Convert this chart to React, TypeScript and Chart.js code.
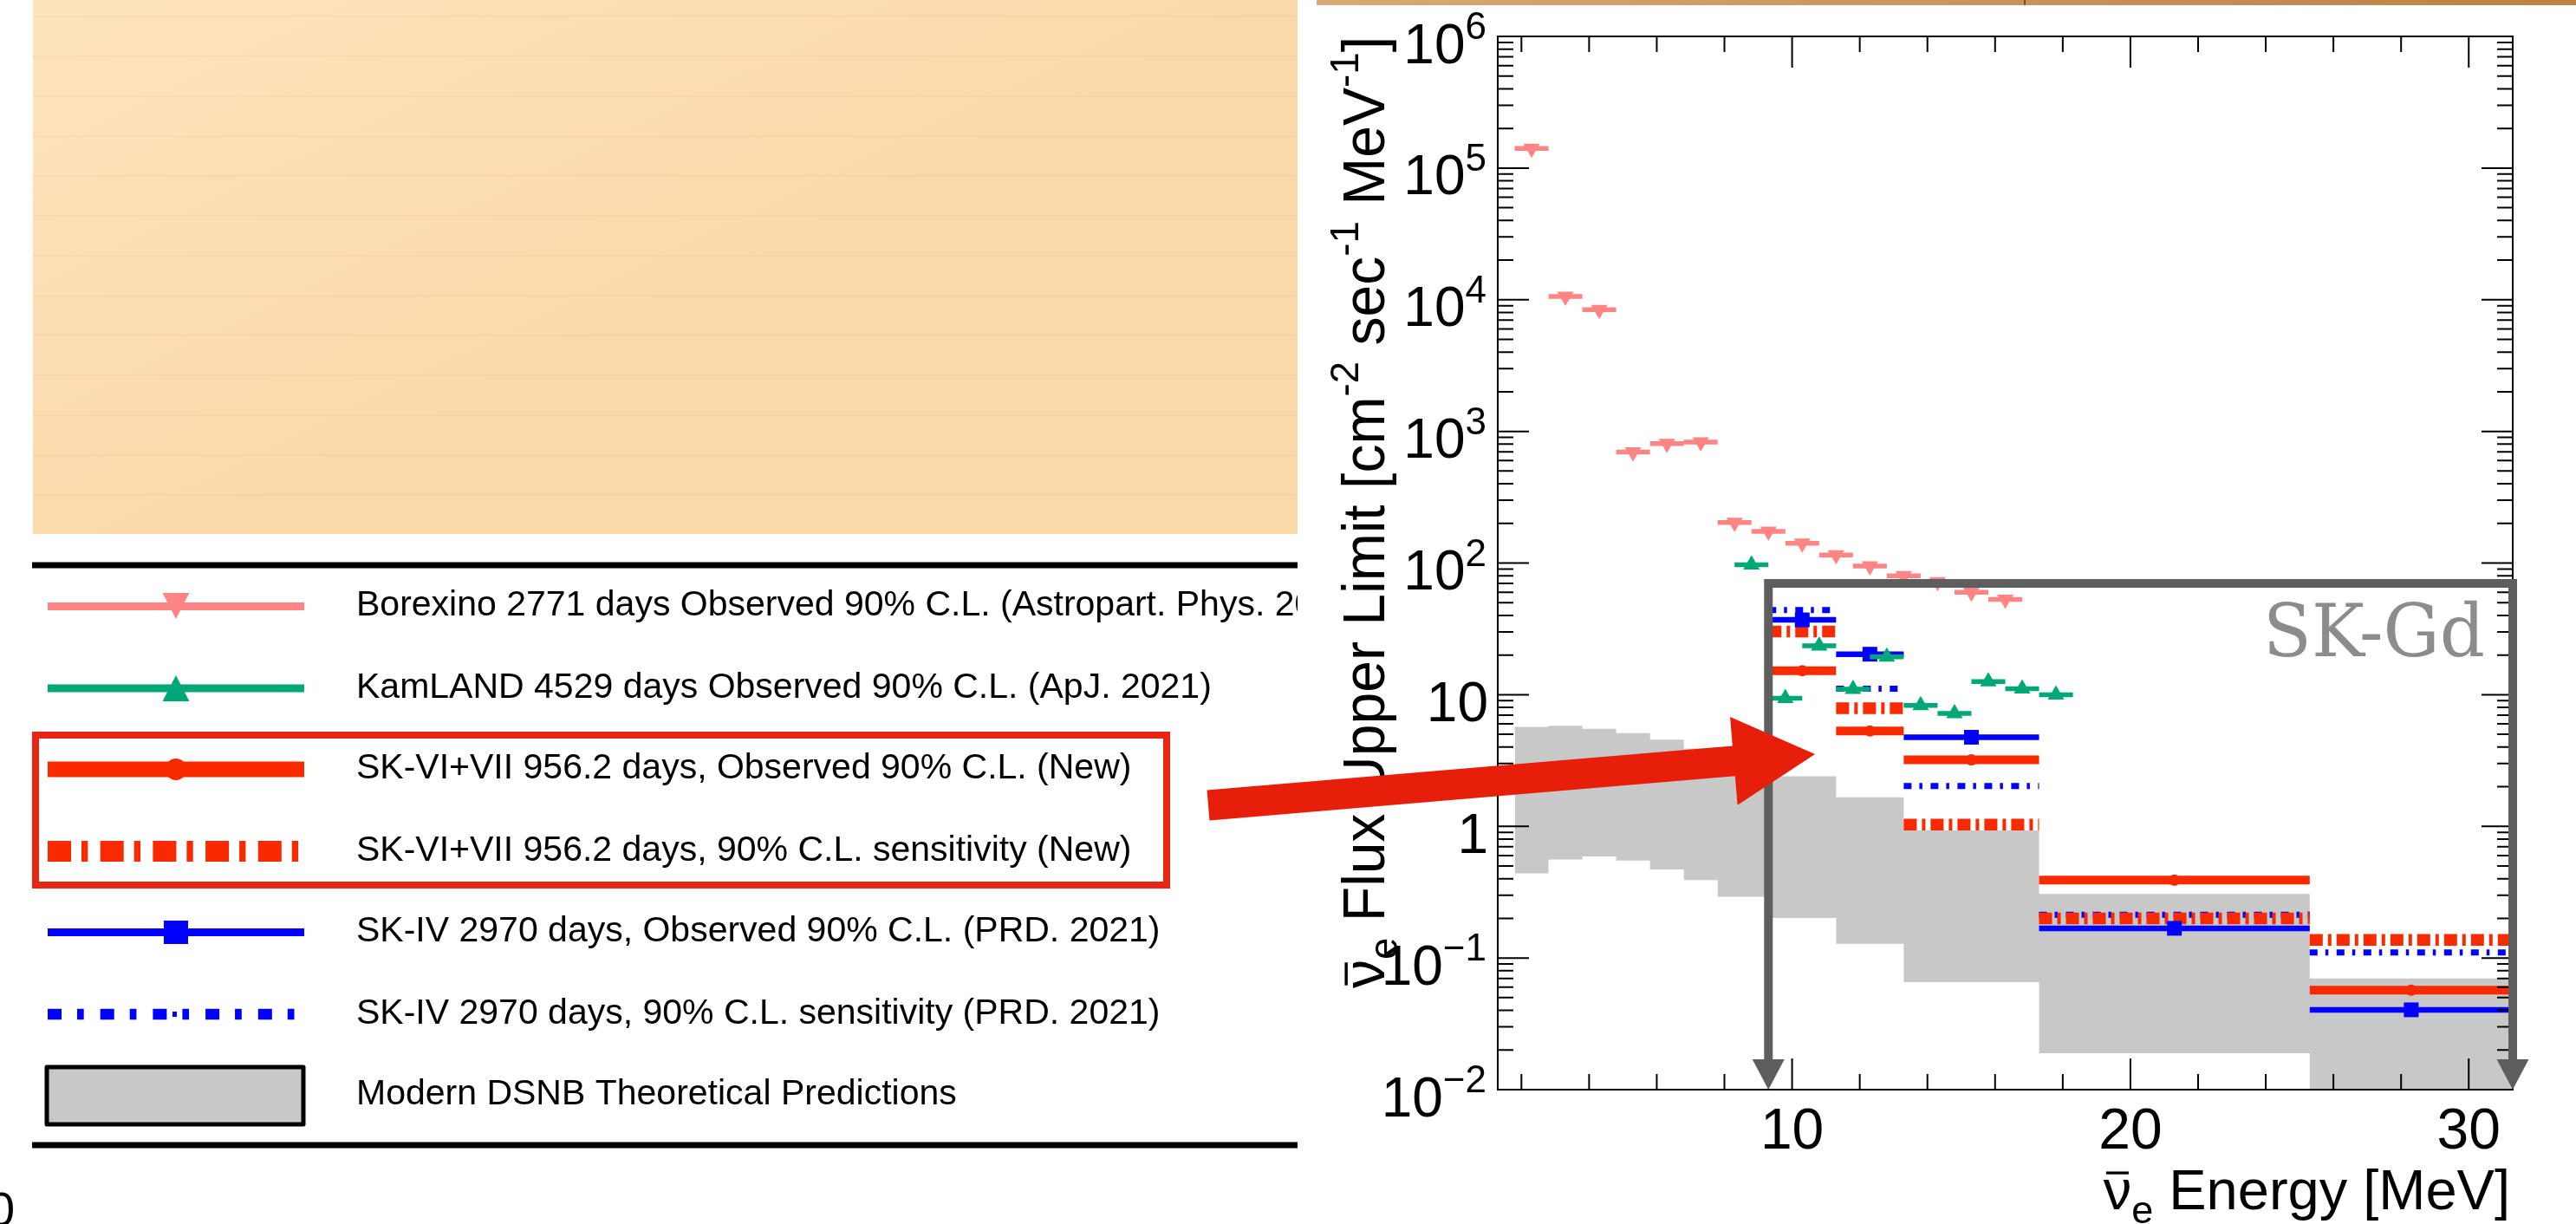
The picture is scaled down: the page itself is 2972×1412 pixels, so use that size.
import React, { useEffect, useRef } from "react";
import { Chart, registerables } from "chart.js";

Chart.register(...registerables);

const CANVAS_W = 2972;
const CANVAS_H = 1412;
const SANS = '"Liberation Sans", Arial, Helvetica, sans-serif';
const SERIF = '"DejaVu Serif", "Liberation Serif", serif';

// ---------------- data ----------------
const SK_BIN_LOW = [9.3, 11.3, 13.3, 17.3, 25.3];
const SK_BIN_HIGH = [11.3, 13.3, 17.3, 25.3, 31.3];
const SK_MARKER_E = [10.3, 12.3, 15.3, 21.3, 28.3];
const SK67_OBSERVED = [15.2, 5.3, 3.2, 0.39, 0.057];
const SK67_SENSITIVITY = [30.2, 7.9, 1.03, 0.2, 0.137];
const SK4_OBSERVED = [37, 20.3, 4.75, 0.168, 0.0404];
const SK4_SENSITIVITY = [44, 11.1, 2.02, 0.213, 0.11];

const BOREXINO_E = [2.3, 3.3, 4.3, 5.3, 6.3, 7.3, 8.3, 9.3, 10.3, 11.3, 12.3, 13.3, 14.3, 15.3, 16.3];
const BOREXINO_LIMIT = [141000, 10600, 8400, 697, 807, 830, 203, 174, 141, 115, 95, 80, 72, 60, 53];
const KAMLAND_E = [8.8, 9.8, 10.8, 11.8, 12.8, 13.8, 14.8, 15.8, 16.8, 17.8];
const KAMLAND_LIMIT = [97, 9.4, 23.5, 11.0, 19.4, 8.3, 7.2, 12.6, 11.1, 10.0];
const BIN_HALF_WIDTH = 0.5;

const DSNB_EDGES = [1.8, 2.8, 3.8, 4.8, 5.8, 6.8, 7.8, 9.3, 11.3, 13.3, 17.3, 25.3, 31.3];
const DSNB_UPPER = [5.7, 5.8, 5.5, 5.1, 4.55, 3.9, 3.1, 2.4, 1.66, 0.93, 0.306, 0.07];
const DSNB_LOWER = [0.44, 0.56, 0.59, 0.55, 0.47, 0.39, 0.292, 0.201, 0.128, 0.0656, 0.0189, 0.005];

// ---------------- axes ----------------
const X_MIN = 1.3;
const X_MAX = 31.3;
const Y_MIN = 0.01;
const Y_MAX = 1e6;
const X_TICK_START = 2;
const X_TICK_STEP = 2;
const X_MAJOR_EVERY = 10;
const X_LABEL_VALUES = [10, 20, 30];
const X_LABELS = ["10", "20", "30"];
const Y_LABEL_VALUES = [1e-2, 1e-1, 1, 10, 1e2, 1e3, 1e4, 1e5, 1e6];
const Y_LABEL_BASES = ["10", "10", "1", "10", "10", "10", "10", "10", "10"];
const Y_LABEL_EXPONENTS = ["\u22122", "\u22121", "", "", "2", "3", "4", "5", "6"];
const Y_MIN_EXP = -2;
const Y_MAX_EXP = 6;

const LEGEND_LABELS = [
  "Borexino 2771 days Observed 90% C.L. (Astropart. Phys. 2021)",
  "KamLAND 4529 days Observed 90% C.L. (ApJ. 2021)",
  "SK-VI+VII 956.2 days, Observed 90% C.L. (New)",
  "SK-VI+VII 956.2 days, 90% C.L. sensitivity (New)",
  "SK-IV 2970 days, Observed 90% C.L. (PRD. 2021)",
  "SK-IV 2970 days, 90% C.L. sensitivity (PRD. 2021)",
  "Modern DSNB Theoretical Predictions",
];
const SKGD_LABEL = "SK-Gd";
const SKGD_BOX = { xMin: 9.3, xMax: 31.3, yTop: 70 };

// ---------------- colours ----------------
const C_BOREXINO = "#FF8484";
const C_KAMLAND = "#00A877";
const C_RED = "#FA2A00";
const C_BLUE = "#0000FF";
const C_BAND = "#C8C8C8";
const C_ARROW = "#E61E0A";
const C_BOX = "#5E5E5E";

// ---------------- helpers ----------------
function binSegments(lo: number[], hi: number[], vals: number[]) {
  const pts: any[] = [];
  vals.forEach((v, i) => {
    pts.push({ x: lo[i], y: v }, { x: hi[i], y: v }, { x: hi[i], y: null });
  });
  return pts;
}
function stepData(edges: number[], vals: number[]) {
  return edges.map((e, i) => ({ x: e, y: vals[Math.min(i, vals.length - 1)] }));
}
function points(xs: number[], ys: number[]) {
  return xs.map((x, i) => ({ x, y: ys[i] }));
}

type Seg = { t: string; size: number; dy?: number; bar?: boolean };
function segWidth(ctx: CanvasRenderingContext2D, segs: Seg[]) {
  let w = 0;
  for (const s of segs) {
    ctx.font = `${s.size}px ${SANS}`;
    w += ctx.measureText(s.t).width;
  }
  return w;
}
function drawSegs(ctx: CanvasRenderingContext2D, x: number, y: number, segs: Seg[]) {
  let cx = x;
  ctx.textAlign = "left";
  ctx.textBaseline = "alphabetic";
  for (const s of segs) {
    ctx.font = `${s.size}px ${SANS}`;
    const w = ctx.measureText(s.t).width;
    ctx.fillText(s.t, cx, y + (s.dy || 0));
    if (s.bar) ctx.fillRect(cx + w * 0.1, y - s.size * 0.67, w * 0.8, Math.max(3, s.size * 0.05));
    cx += w;
  }
}

function drawLegend(ctx: CanvasRenderingContext2D) {
  const X0 = 55, X1 = 351, MX = 203, TX = 411;
  const rows = [699.5, 794, 887.5, 982, 1075.5, 1170, 1263.5];
  ctx.fillStyle = "#000";
  ctx.fillRect(37, 648.5, 1460, 7);
  ctx.fillRect(37, 1317.5, 1460, 7);

  const hline = (y: number, w: number, c: string, dash: number[] = []) => {
    ctx.save();
    ctx.strokeStyle = c;
    ctx.lineWidth = w;
    ctx.lineCap = "butt";
    ctx.setLineDash(dash);
    ctx.beginPath();
    ctx.moveTo(X0, y);
    ctx.lineTo(X1, y);
    ctx.stroke();
    ctx.restore();
  };
  // Borexino
  hline(rows[0], 9, C_BOREXINO);
  ctx.fillStyle = C_BOREXINO;
  ctx.beginPath();
  ctx.moveTo(MX - 15.5, rows[0] - 15.5);
  ctx.lineTo(MX + 15.5, rows[0] - 15.5);
  ctx.lineTo(MX, rows[0] + 14.5);
  ctx.closePath();
  ctx.fill();
  // KamLAND
  hline(rows[1], 9, C_KAMLAND);
  ctx.fillStyle = C_KAMLAND;
  ctx.beginPath();
  ctx.moveTo(MX - 15.5, rows[1] + 15);
  ctx.lineTo(MX + 15.5, rows[1] + 15);
  ctx.lineTo(MX, rows[1] - 15);
  ctx.closePath();
  ctx.fill();
  // SK-VI+VII observed
  hline(rows[2], 18, C_RED);
  ctx.fillStyle = C_RED;
  ctx.beginPath();
  ctx.arc(MX, rows[2], 12.5, 0, Math.PI * 2);
  ctx.fill();
  // SK-VI+VII sensitivity
  hline(rows[3], 24, C_RED, [27, 12, 7.3, 14.4]);
  // SK-IV observed
  hline(rows[4], 9, C_BLUE);
  ctx.fillStyle = C_BLUE;
  ctx.fillRect(MX - 14, rows[4] - 13.5, 28, 27);
  // SK-IV sensitivity
  hline(rows[5], 12.5, C_BLUE, [16, 18, 7.7, 19]);
  ctx.fillStyle = C_BLUE;
  ctx.fillRect(MX - 4, rows[5] - 3, 5, 6);
  // DSNB box
  ctx.fillStyle = C_BAND;
  ctx.fillRect(54, 1231, 296, 66);
  ctx.strokeStyle = "#000";
  ctx.lineWidth = 5;
  ctx.lineJoin = "round";
  ctx.strokeRect(54, 1231, 296, 66);

  // texts
  ctx.fillStyle = "#000";
  ctx.font = `41px ${SANS}`;
  ctx.textAlign = "left";
  ctx.textBaseline = "alphabetic";
  LEGEND_LABELS.forEach((t, i) => ctx.fillText(t, TX, rows[i] + 10.5));

  // red highlight box
  ctx.strokeStyle = "#EA2412";
  ctx.lineWidth = 8;
  ctx.lineJoin = "miter";
  ctx.strokeRect(41, 848, 1305, 173);
}

const pagePlugin = {
  id: "page",
  beforeDraw(chart: any) {
    const ctx: CanvasRenderingContext2D = chart.ctx;
    ctx.save();
    ctx.fillStyle = "#FFFFFF";
    ctx.fillRect(0, 0, CANVAS_W, CANVAS_H);
    // slide background panel
    const g = ctx.createLinearGradient(0, 0, 300, 616);
    g.addColorStop(0, "#FDE4BE");
    g.addColorStop(1, "#FBD8A8");
    ctx.fillStyle = g;
    ctx.fillRect(38, 0, 1459, 616);
    ctx.strokeStyle = "rgba(225,170,100,0.10)";
    ctx.lineWidth = 2;
    for (let yy = 19; yy < 616; yy += 46) {
      ctx.beginPath();
      ctx.moveTo(38, yy);
      ctx.lineTo(1497, yy);
      ctx.stroke();
    }
    // brown strip on top of right panel
    const g2 = ctx.createLinearGradient(1497, 0, CANVAS_W, 0);
    g2.addColorStop(0, "#D6AA76");
    g2.addColorStop(1, "#BE8046");
    ctx.fillStyle = g2;
    ctx.fillRect(1519, 0, CANVAS_W - 1519, 6);
    ctx.fillStyle = "#7A5020";
    ctx.fillRect(2335, 0, 2, 6);

    ctx.save();
    ctx.beginPath();
    ctx.rect(0, 0, 1497, CANVAS_H);
    ctx.clip();
    drawLegend(ctx);
    ctx.restore();

    // partial glyph at the lower-left corner
    ctx.fillStyle = "#000";
    ctx.font = `56px ${SANS}`;
    ctx.textAlign = "left";
    ctx.fillText("0", -14, 1414);
    ctx.restore();
  },
};

const axesPlugin = {
  id: "rootAxes",
  afterDatasetsDraw(chart: any) {
    const ctx: CanvasRenderingContext2D = chart.ctx;
    const a = chart.chartArea;
    const xs = chart.scales.x;
    const ys = chart.scales.y;
    ctx.save();
    ctx.strokeStyle = "#000";
    ctx.lineWidth = 2;
    ctx.strokeRect(a.left, a.top, a.right - a.left, a.bottom - a.top);
    ctx.beginPath();
    for (let v = X_TICK_START; v <= X_MAX; v += X_TICK_STEP) {
      const px = xs.getPixelForValue(v);
      const len = v % X_MAJOR_EVERY === 0 ? 36 : 18;
      ctx.moveTo(px, a.bottom);
      ctx.lineTo(px, a.bottom - len);
      ctx.moveTo(px, a.top);
      ctx.lineTo(px, a.top + len);
    }
    for (let d = Y_MIN_EXP; d < Y_MAX_EXP; d++) {
      for (let m = 1; m < 10; m++) {
        const py = ys.getPixelForValue(m * Math.pow(10, d));
        const len = m === 1 ? 36 : 18;
        ctx.moveTo(a.left, py);
        ctx.lineTo(a.left + len, py);
        ctx.moveTo(a.right, py);
        ctx.lineTo(a.right - len, py);
      }
    }
    ctx.stroke();

    // x tick labels
    ctx.fillStyle = "#000";
    ctx.font = `66px ${SANS}`;
    ctx.textAlign = "center";
    ctx.textBaseline = "alphabetic";
    X_LABEL_VALUES.forEach((v, i) => ctx.fillText(X_LABELS[i], xs.getPixelForValue(v), a.bottom + 68));

    // y tick labels
    const RIGHT = a.left - 13;
    Y_LABEL_VALUES.forEach((v, i) => {
      const py = ys.getPixelForValue(v);
      ctx.textAlign = "right";
      let r = RIGHT;
      if (Y_LABEL_EXPONENTS[i]) {
        ctx.font = `44px ${SANS}`;
        ctx.fillText(Y_LABEL_EXPONENTS[i], r, py + 3);
        r -= ctx.measureText(Y_LABEL_EXPONENTS[i]).width;
      } else {
        r += 2;
      }
      ctx.font = `64px ${SANS}`;
      ctx.fillText(Y_LABEL_BASES[i], r, py + 30.5);
    });

    // x title
    const xt: Seg[] = [
      { t: "\u03bd", size: 65, bar: true },
      { t: "e", size: 45, dy: 16 },
      { t: " Energy [MeV]", size: 65 },
    ];
    const xw = segWidth(ctx, xt);
    drawSegs(ctx, a.right - 3 - xw, 1395, xt);

    // y title (rotated)
    const yt: Seg[] = [
      { t: "\u03bd", size: 68, bar: true },
      { t: "e", size: 47, dy: 15 },
      { t: " Flux Upper Limit [cm", size: 68 },
      { t: "-2", size: 47, dy: -30 },
      { t: " sec", size: 68 },
      { t: "-1", size: 47, dy: -30 },
      { t: " MeV", size: 68 },
      { t: "-1", size: 47, dy: -30 },
      { t: "]", size: 68 },
    ];
    const yw = segWidth(ctx, yt);
    const target = 1098;
    const s = Math.min(1, target / yw);
    ctx.save();
    ctx.translate(1597, a.top);
    ctx.rotate(-Math.PI / 2);
    ctx.scale(s, 1);
    drawSegs(ctx, -yw, 0, yt);
    ctx.restore();

    ctx.restore();
  },
};

const annotationPlugin = {
  id: "skgd",
  afterDraw(chart: any) {
    const ctx: CanvasRenderingContext2D = chart.ctx;
    const a = chart.chartArea;
    const xs = chart.scales.x;
    const ys = chart.scales.y;
    const L = xs.getPixelForValue(SKGD_BOX.xMin);
    const R = xs.getPixelForValue(SKGD_BOX.xMax);
    const T = ys.getPixelForValue(SKGD_BOX.yTop);
    const B = a.bottom;
    ctx.save();
    ctx.strokeStyle = C_BOX;
    ctx.fillStyle = C_BOX;
    ctx.lineWidth = 10;
    ctx.lineCap = "butt";
    ctx.beginPath();
    ctx.moveTo(L - 5, T);
    ctx.lineTo(R + 5, T);
    ctx.moveTo(L, T - 5);
    ctx.lineTo(L, B - 34);
    ctx.moveTo(R, T - 5);
    ctx.lineTo(R, B - 34);
    ctx.stroke();
    for (const xx of [L, R]) {
      ctx.beginPath();
      ctx.moveTo(xx - 18.5, B - 35);
      ctx.lineTo(xx + 18.5, B - 35);
      ctx.lineTo(xx, B);
      ctx.closePath();
      ctx.fill();
    }
    ctx.fillStyle = "#8C8C8C";
    ctx.font = `85px ${SERIF}`;
    ctx.textAlign = "right";
    ctx.textBaseline = "alphabetic";
    ctx.fillText(SKGD_LABEL, 2867, 757, 256);

    // big red arrow from the legend to the plot
    const tail = { x: 1394, y: 929 };
    const tip = { x: 2094, y: 870 };
    const dx = tip.x - tail.x, dy = tip.y - tail.y;
    const len = Math.hypot(dx, dy);
    const ux = dx / len, uy = dy / len;
    const nx = -uy, ny = ux;
    const hw = 17.5, headW = 51, headL = 94;
    const bx = tip.x - ux * headL, by = tip.y - uy * headL;
    ctx.fillStyle = C_ARROW;
    ctx.beginPath();
    ctx.moveTo(tail.x - nx * hw, tail.y - ny * hw);
    ctx.lineTo(bx - nx * hw, by - ny * hw);
    ctx.lineTo(bx - nx * headW, by - ny * headW);
    ctx.lineTo(tip.x, tip.y);
    ctx.lineTo(bx + nx * headW, by + ny * headW);
    ctx.lineTo(bx + nx * hw, by + ny * hw);
    ctx.lineTo(tail.x + nx * hw, tail.y + ny * hw);
    ctx.closePath();
    ctx.fill();
    ctx.restore();
  },
};

function segDataset(label: string, lo: number[], hi: number[], vals: number[], color: string, width: number, order: number, dash: number[] = []) {
  return {
    label,
    data: binSegments(lo, hi, vals),
    borderColor: color,
    backgroundColor: color,
    borderWidth: width,
    borderDash: dash,
    borderCapStyle: "butt",
    pointRadius: 0,
    fill: false,
    spanGaps: false,
    tension: 0,
    order,
  };
}
function markerDataset(label: string, xsv: number[], ysv: number[], color: string, style: string, radius: number, rotation: number, order: number) {
  return {
    label,
    data: points(xsv, ysv),
    showLine: false,
    pointStyle: style,
    pointRadius: radius,
    pointRotation: rotation,
    rotation,
    pointBackgroundColor: color,
    backgroundColor: color,
    pointBorderWidth: 0,
    borderWidth: 0,
    borderColor: color,
    order,
  };
}

export default function App() {
  const ref = useRef<HTMLCanvasElement>(null);
  useEffect(() => {
    const canvas = ref.current;
    if (!canvas) return;
    const borexLo = BOREXINO_E.map((e) => e - BIN_HALF_WIDTH);
    const borexHi = BOREXINO_E.map((e) => e + BIN_HALF_WIDTH);
    const kamLo = KAMLAND_E.map((e) => e - BIN_HALF_WIDTH);
    const kamHi = KAMLAND_E.map((e) => e + BIN_HALF_WIDTH);
    const datasets: any[] = [
      segDataset("Borexino", borexLo, borexHi, BOREXINO_LIMIT, C_BOREXINO, 5.5, 1),
      markerDataset("Borexino markers", BOREXINO_E, BOREXINO_LIMIT, C_BOREXINO, "triangle", 11, 180, 1),
      segDataset("KamLAND", kamLo, kamHi, KAMLAND_LIMIT, C_KAMLAND, 5.5, 2),
      markerDataset("KamLAND markers", KAMLAND_E, KAMLAND_LIMIT, C_KAMLAND, "triangle", 11, 0, 2),
      segDataset("SK-VI+VII observed", SK_BIN_LOW, SK_BIN_HIGH, SK67_OBSERVED, C_RED, 10, 3),
      markerDataset("SK-VI+VII observed markers", SK_MARKER_E, SK67_OBSERVED, C_RED, "circle", 6.5, 0, 3),
      segDataset("SK-IV observed", SK_BIN_LOW, SK_BIN_HIGH, SK4_OBSERVED, C_BLUE, 6.5, 4),
      markerDataset("SK-IV observed markers", SK_MARKER_E, SK4_OBSERVED, C_BLUE, "rect", 12, 0, 4),
      segDataset("SK-VI+VII sensitivity", SK_BIN_LOW, SK_BIN_HIGH, SK67_SENSITIVITY, C_RED, 13.5, 5, [15, 6, 4, 6]),
      segDataset("SK-IV sensitivity", SK_BIN_LOW, SK_BIN_HIGH, SK4_SENSITIVITY, C_BLUE, 7, 6, [9, 9, 3.5, 9.5]),
      {
        label: "DSNB upper",
        data: stepData(DSNB_EDGES, DSNB_UPPER),
        stepped: true,
        fill: "+1",
        backgroundColor: C_BAND,
        borderColor: "rgba(0,0,0,0)",
        borderWidth: 0,
        pointRadius: 0,
        order: 20,
      },
      {
        label: "DSNB lower",
        data: stepData(DSNB_EDGES, DSNB_LOWER),
        stepped: true,
        fill: false,
        backgroundColor: C_BAND,
        borderColor: "rgba(0,0,0,0)",
        borderWidth: 0,
        pointRadius: 0,
        order: 21,
      },
    ];
    const chart = new Chart(canvas, {
      type: "line",
      data: { datasets },
      options: {
        responsive: false,
        maintainAspectRatio: false,
        devicePixelRatio: 1,
        animation: false,
        events: [],
        layout: { padding: { left: 1728, right: 73, top: 42, bottom: 155 } },
        scales: {
          x: { type: "linear", min: X_MIN, max: X_MAX, display: false },
          y: { type: "logarithmic", min: Y_MIN, max: Y_MAX, display: false },
        },
        plugins: {
          legend: { display: false },
          tooltip: { enabled: false },
        },
      },
      plugins: [pagePlugin, axesPlugin, annotationPlugin],
    } as any);
    return () => chart.destroy();
  }, []);
  return (
    <div style={{ position: "fixed", left: 0, top: 0, width: CANVAS_W, height: CANVAS_H, background: "#fff" }}>
      <canvas ref={ref} width={CANVAS_W} height={CANVAS_H} style={{ display: "block", width: CANVAS_W, height: CANVAS_H }} />
    </div>
  );
}
